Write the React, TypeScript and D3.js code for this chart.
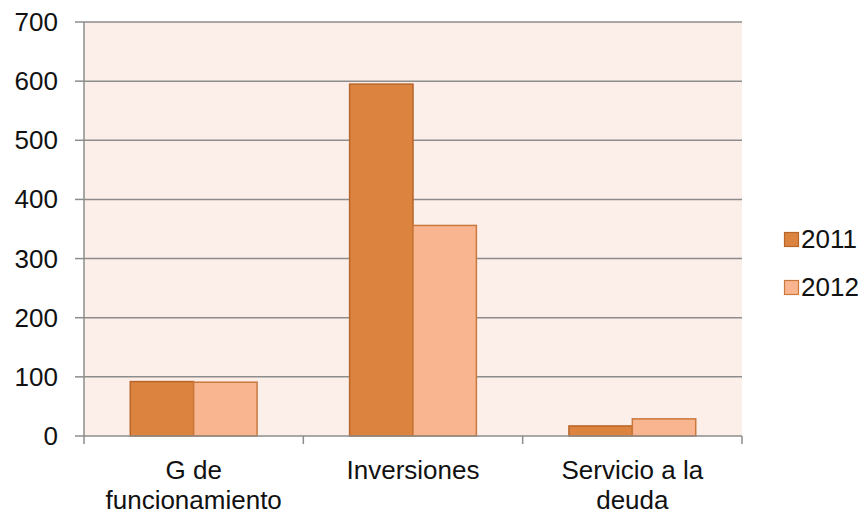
import React from "react";
import * as d3 from "d3";

const categories = [["G de", "funcionamiento"], ["Inversiones"], ["Servicio a la", "deuda"]];
const series = ["2011", "2012"];
const values2011 = [92, 595, 17];
const values2012 = [91, 356, 29];
const yTicks = [0, 100, 200, 300, 400, 500, 600, 700];

const fills = ["#DC843F", "#F9B590"];
const strokes = ["#B8652A", "#C9793D"];

export default function App() {
  const W = 867, H = 514;
  const left = 84, right = 742, top = 22, bottom = 436;
  const x = d3.scaleBand<number>().domain(d3.range(categories.length)).range([left, right]).paddingInner(0).paddingOuter(0);
  const inner = d3.scaleBand<number>().domain([0, 1]).range([0, x.bandwidth()]).paddingOuter(0.73).paddingInner(0);
  const y = d3.scaleLinear().domain([0, 700]).range([bottom, top]);
  const data = [values2011, values2012];
  const font = "'Liberation Sans', Arial, sans-serif";
  return (
    <svg width={W} height={H} style={{ position: "absolute", left: 0, top: 0 }} fontFamily={font}>
      <rect x={left} y={top} width={right - left} height={bottom - top} fill="#FCEEE9" />
      {yTicks.map((t) => (
        <g key={t}>
          {t > 0 && <line x1={left} x2={right} y1={y(t)} y2={y(t)} stroke="#8C8C8C" strokeWidth={1.5} />}
          <line x1={left - 9} x2={left} y1={y(t)} y2={y(t)} stroke="#8C8C8C" strokeWidth={1.5} />
          <text x={58} y={y(t) + 9} textAnchor="end" fontSize={26} fill="#111">{t}</text>
        </g>
      ))}
      {data.map((vals, si) =>
        vals.map((v, ci) => (
          <rect key={si + "-" + ci}
            x={(x(ci) as number) + (inner(si) as number)}
            y={y(v)}
            width={inner.bandwidth()}
            height={bottom - y(v)}
            fill={fills[si]} stroke={strokes[si]} strokeWidth={1.5} />
        ))
      )}
      <line x1={left} x2={left} y1={top} y2={bottom} stroke="#8C8C8C" strokeWidth={1.5} />
      <line x1={left} x2={right} y1={bottom} y2={bottom} stroke="#8C8C8C" strokeWidth={1.5} />
      {d3.range(categories.length + 1).map((i) => {
        const xx = left + i * x.bandwidth();
        return <line key={i} x1={xx} x2={xx} y1={bottom} y2={bottom + 8} stroke="#8C8C8C" strokeWidth={1.5} />;
      })}
      {categories.map((lines, ci) => (
        <text key={ci} x={(x(ci) as number) + x.bandwidth() / 2} y={479} textAnchor="middle" fontSize={26} fill="#111">
          {lines.map((l, li) => (
            <tspan key={li} x={(x(ci) as number) + x.bandwidth() / 2} dy={li === 0 ? 0 : 30}>{l}</tspan>
          ))}
        </text>
      ))}
      {series.map((s, si) => (
        <g key={s} transform={`translate(784, ${232 + si * 48})`}>
          <rect x={0.5} y={0.5} width={14} height={14} fill={fills[si]} stroke={strokes[si]} strokeWidth={1.2} />
          <text x={17} y={16} fontSize={26} fill="#111">{s}</text>
        </g>
      ))}
    </svg>
  );
}
